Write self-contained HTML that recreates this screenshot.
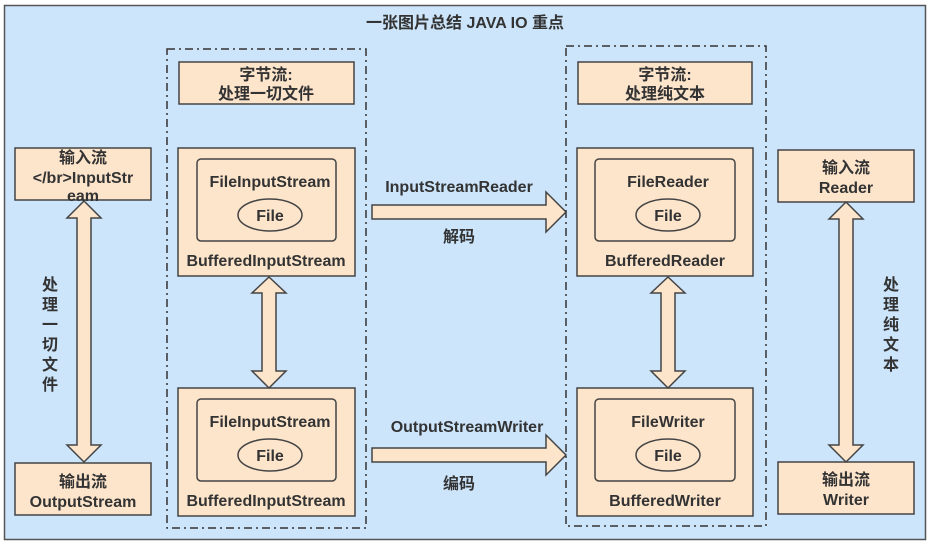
<!DOCTYPE html>
<html><head><meta charset="utf-8"><style>
html,body{margin:0;padding:0;background:#fff;}
svg{display:block;}
text{font-family:"Liberation Sans","Noto Sans CJK SC",sans-serif;font-weight:bold;fill:#333;font-size:16px;text-anchor:middle;}
</style></head><body>
<svg width="931" height="545" viewBox="0 0 931 545">
<rect x="4.5" y="5.5" width="921" height="534" fill="#cce5fb" stroke="#555" stroke-width="1.5"/>
<text x="465" y="28" font-size="17">一张图片总结 JAVA IO 重点</text>
<g fill="none" stroke="#333" stroke-width="1.5" stroke-dasharray="8,4,2,4">
<rect x="167" y="49" width="199" height="479"/>
<rect x="566" y="46" width="200" height="480"/>
</g>
<g fill="#fde5cc" stroke="#444" stroke-width="1.5">
<rect x="179" y="62" width="175" height="42"/>
<rect x="578" y="62" width="174" height="42"/>
<rect x="178" y="148" width="177" height="128"/>
<rect x="178" y="388" width="177" height="128"/>
<rect x="577" y="148" width="176" height="128"/>
<rect x="577" y="388" width="176" height="128"/>
<rect x="197" y="159" width="139" height="82" rx="4"/>
<rect x="197" y="399" width="139" height="82" rx="4"/>
<rect x="595" y="159" width="140" height="82" rx="4"/>
<rect x="595" y="399" width="140" height="82" rx="4"/>
<ellipse cx="270" cy="215" rx="32" ry="16"/>
<ellipse cx="270" cy="455" rx="32" ry="16"/>
<ellipse cx="668" cy="215" rx="32" ry="16"/>
<ellipse cx="668" cy="455" rx="32" ry="16"/>
<rect x="15" y="148" width="136" height="52"/>
<rect x="15" y="463" width="136" height="52"/>
<rect x="778" y="150" width="136" height="52"/>
<rect x="778" y="462" width="136" height="52"/>
<polygon points="84,201 101,218 91,218 91,445 101,445 84,462 67,445 77,445 77,218 67,218"/>
<polygon points="846,202 863,219 853,219 853,445 863,445 846,462 829,445 839,445 839,219 829,219"/>
<polygon points="269,277 286,293 276,293 276,371 286,371 269,388 252,371 262,371 262,293 252,293"/>
<polygon points="668,277 685,293 675,293 675,371 685,371 668,388 651,371 661,371 661,293 651,293"/>
<polygon points="372,205 546,205 546,192 566,212 546,232 546,219 372,219"/>
<polygon points="372,448 546,448 546,435 566,455 546,475 546,462 372,462"/>
</g>
<text x="266" y="80">字节流:</text><text x="266" y="99">处理一切文件</text>
<text x="665" y="80">字节流:</text><text x="665" y="99">处理纯文本</text>
<text x="270" y="187">FileInputStream</text><text x="270" y="221">File</text><text x="266" y="266">BufferedInputStream</text>
<text x="270" y="427">FileInputStream</text><text x="270" y="461">File</text><text x="266" y="506">BufferedInputStream</text>
<text x="668" y="187">FileReader</text><text x="668" y="221">File</text><text x="665" y="266">BufferedReader</text>
<text x="668" y="427">FileWriter</text><text x="668" y="461">File</text><text x="665" y="506">BufferedWriter</text>
<text x="459" y="192">InputStreamReader</text><text x="459" y="242">解码</text>
<text x="467" y="432">OutputStreamWriter</text><text x="459" y="489">编码</text>
<text x="83" y="163">输入流</text><text x="83" y="183">&lt;/br&gt;InputStr</text><text x="83" y="201">eam</text>
<text x="83" y="487">输出流</text><text x="83" y="507">OutputStream</text>
<text x="846" y="173">输入流</text><text x="846" y="193">Reader</text>
<text x="846" y="485">输出流</text><text x="846" y="505">Writer</text>
<g font-size="15">
<text x="50" y="290">处</text><text x="50" y="310">理</text><text x="50" y="330">一</text><text x="50" y="350">切</text><text x="50" y="370">文</text><text x="50" y="390">件</text>
<text x="891" y="290">处</text><text x="891" y="310">理</text><text x="891" y="330">纯</text><text x="891" y="350">文</text><text x="891" y="370">本</text>
</g>
</svg>
</body></html>
